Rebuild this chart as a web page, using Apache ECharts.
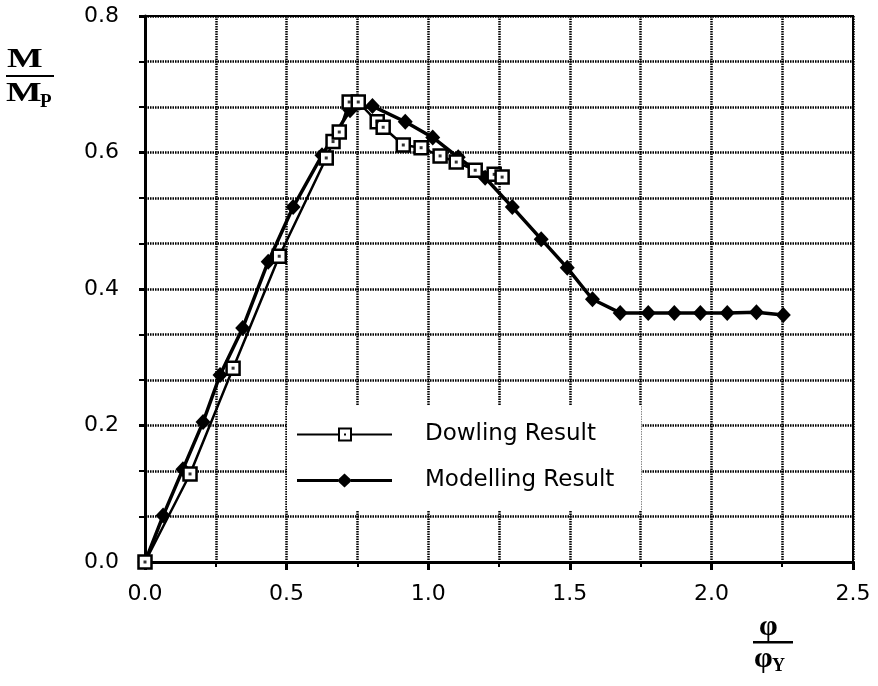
<!DOCTYPE html>
<html>
<head>
<meta charset="utf-8">
<script src="https://cdn.jsdelivr.net/npm/echarts@6/dist/echarts.min.js"></script>
<style>
  html, body { margin: 0; padding: 0; background: #fff; }
  #chart { width: 878px; height: 686px; }
</style>
</head>
<body>
<div id="chart"></div>
<script>
// Moment ratio M/Mp against curvature ratio phi/phiY
const dowlingX = [0, 0.159, 0.311, 0.474, 0.640, 0.664, 0.686, 0.721, 0.753, 0.820, 0.841, 0.912, 0.975, 1.042, 1.099, 1.166, 1.233, 1.261];
const dowlingY = [0, 0.129, 0.284, 0.448, 0.592, 0.616, 0.630, 0.674, 0.674, 0.645, 0.637, 0.611, 0.607, 0.595, 0.586, 0.574, 0.568, 0.564];

const modelX = [0, 0.064, 0.134, 0.205, 0.265, 0.345, 0.435, 0.523, 0.625, 0.724, 0.803, 0.919, 1.016, 1.106, 1.201, 1.297, 1.399, 1.491, 1.580, 1.678, 1.777, 1.869, 1.961, 2.056, 2.159, 2.254];
const modelY = [0, 0.068, 0.136, 0.205, 0.274, 0.343, 0.440, 0.520, 0.596, 0.662, 0.668, 0.645, 0.622, 0.593, 0.563, 0.520, 0.473, 0.431, 0.385, 0.365, 0.365, 0.365, 0.365, 0.365, 0.366, 0.362];

const xTicks = [0, 0.5, 1.0, 1.5, 2.0, 2.5];
const yTicks = [0, 0.2, 0.4, 0.6, 0.8];

const seriesNames = ['Dowling Result', 'Modelling Result'];

const pairs = (xs, ys) => xs.map((x, i) => [x, ys[i]]);

const FONT = '"DejaVu Sans", sans-serif';
const SERIF = '"Liberation Serif", "DejaVu Serif", serif';

const gridDash = { color: '#000', width: 2.5, type: [1.5, 1] };

// Legend icons: line with a hollow dotted square / line with a solid diamond
const squareIcon = 'path://M0,6L41,6L41,8L0,8Z M41,0L55,0L55,14L41,14Z M43,2L43,12L53,12L53,2Z M47,6L49,6L49,8L47,8Z M55,6L95,6L95,8L55,8Z';
const diamondIcon = 'path://M0,5.5L41,5.5L41,8.5L0,8.5Z M47.5,0L55,7L47.5,14L40,7Z M54,5.5L95,5.5L95,8.5L54,8.5Z';

const chart = echarts.init(document.getElementById('chart'), null, { renderer: 'canvas' });

chart.setOption({
  backgroundColor: '#fff',
  animation: false,
  grid: {
    left: 145, right: 25, top: 16, bottom: 124,
    show: true, borderColor: '#000', borderWidth: 2
  },
  xAxis: {
    type: 'value',
    min: xTicks[0], max: xTicks[xTicks.length - 1], interval: 0.5,
    axisLine: { show: true, lineStyle: { color: '#000', width: 3 } },
    axisTick: { show: true, length: 8, lineStyle: { color: '#000', width: 3 } },
    minorTick: { show: true, splitNumber: 2, length: 5, lineStyle: { color: '#000', width: 2 } },
    splitLine: { show: true, lineStyle: gridDash },
    minorSplitLine: { show: true, lineStyle: gridDash },
    axisLabel: {
      color: '#000', fontFamily: FONT, fontSize: 22, margin: 21,
      formatter: v => v.toFixed(1)
    }
  },
  yAxis: {
    type: 'value',
    min: yTicks[0], max: yTicks[yTicks.length - 1], interval: 0.2,
    axisLine: { show: true, lineStyle: { color: '#000', width: 3 } },
    axisTick: { show: true, length: 6, lineStyle: { color: '#000', width: 3 } },
    minorTick: { show: true, splitNumber: 3, length: 6, lineStyle: { color: '#000', width: 2 } },
    splitLine: { show: true, lineStyle: gridDash },
    minorSplitLine: { show: true, lineStyle: gridDash },
    axisLabel: {
      color: '#000', fontFamily: FONT, fontSize: 22, margin: 26,
      formatter: v => v.toFixed(1)
    }
  },
  legend: {
    left: 287, top: 405,
    orient: 'vertical',
    backgroundColor: '#fff',
    padding: [18, 27, 19, 10],
    itemWidth: 95, itemHeight: 14, itemGap: 23,
    textStyle: { color: '#000', fontFamily: FONT, fontSize: 23, padding: [0, 0, 0, 28] },
    data: [
      { name: seriesNames[0], icon: squareIcon, itemStyle: { color: '#000', borderWidth: 0 } },
      { name: seriesNames[1], icon: diamondIcon, itemStyle: { color: '#000', borderWidth: 0 } }
    ]
  },
  series: [
    {
      name: seriesNames[0],
      type: 'line',
      data: pairs(dowlingX, dowlingY),
      symbol: 'rect',
      symbolSize: 13,
      showAllSymbol: true,
      lineStyle: { color: '#000', width: 2.5 },
      itemStyle: { color: '#fff', borderColor: '#000', borderWidth: 2.5 },
      z: 3
    },
    {
      // centre dots inside the open squares
      name: 'dowling-dots',
      type: 'scatter',
      data: pairs(dowlingX, dowlingY),
      symbol: 'rect',
      symbolSize: 3,
      itemStyle: { color: '#000' },
      silent: true,
      z: 4
    },
    {
      name: seriesNames[1],
      type: 'line',
      data: pairs(modelX, modelY),
      symbol: 'diamond',
      symbolSize: [15, 16],
      showAllSymbol: true,
      lineStyle: { color: '#000', width: 3.5 },
      itemStyle: { color: '#000' },
      z: 2
    }
  ],
  graphic: [
    // y-axis title: M / Mp
    { type: 'text', left: 7, top: 46, scaleX: 1.35, style: { text: 'M', font: 'bold 28px ' + SERIF, fill: '#000' } },
    { type: 'rect', shape: { x: 6, y: 75, width: 48, height: 2 }, style: { fill: '#000' } },
    { type: 'text', left: 6, top: 80, scaleX: 1.35, style: { text: 'M', font: 'bold 28px ' + SERIF, fill: '#000' } },
    { type: 'text', left: 40, top: 93, style: { text: 'P', font: 'bold 19px ' + SERIF, fill: '#000' } },
    // x-axis title: phi / phiY
    { type: 'text', left: 759, top: 612, style: { text: 'φ', font: 'bold 30px ' + SERIF, fill: '#000' } },
    { type: 'rect', shape: { x: 753, y: 641, width: 40, height: 2.5 }, style: { fill: '#000' } },
    { type: 'text', left: 754, top: 644, style: { text: 'φ', font: 'bold 30px ' + SERIF, fill: '#000' } },
    { type: 'text', left: 772, top: 657, style: { text: 'Y', font: 'bold 18px ' + SERIF, fill: '#000' } }
  ]
});
</script>
</body>
</html>
